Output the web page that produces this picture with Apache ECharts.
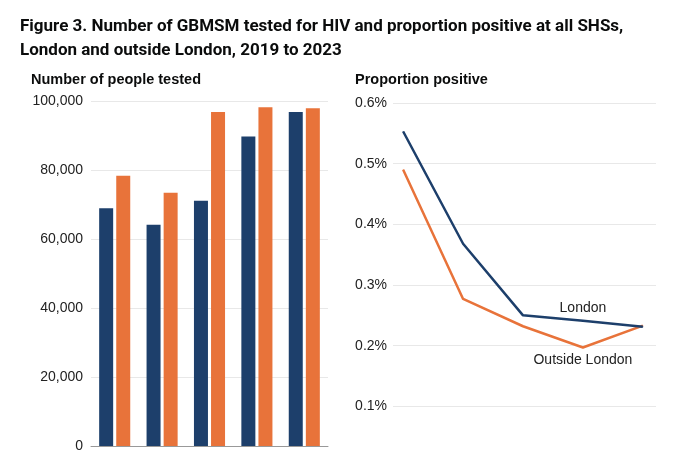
<!DOCTYPE html>
<html><head><meta charset="utf-8">
<script src="https://cdn.jsdelivr.net/npm/echarts@6/dist/echarts.min.js"></script>
<style>html,body{margin:0;padding:0;background:#fff}#c{width:700px;height:450px}</style>
</head><body><div id="c"></div>
<script>
const years = ['2019','2020','2021','2022','2023'];
const yearNums = [2019, 2020, 2021, 2022, 2023];
const testedLondon = [68900, 64100, 71100, 89700, 96800];
const testedOutside = [78300, 73400, 96800, 98200, 97900];
const posLondon = [0.553, 0.368, 0.250, 0.241, 0.231];
const posOutside = [0.490, 0.277, 0.232, 0.197, 0.233];
const barTicks = [0, 20000, 40000, 60000, 80000, 100000];
const pctTicks = [0, 0.1, 0.2, 0.3, 0.4, 0.5, 0.6];

const NAVY = '#1d3f6b', ORANGE = '#e8733a';
const chart = echarts.init(document.getElementById('c'));
const labelFont = {fontFamily: 'Liberation Sans', fontSize: 14, color: '#222'};
const seriesLabel = (text, pos) => ({show: true, position: pos, distance: 5, formatter: text,
  fontFamily: 'Liberation Sans', fontSize: 14, color: '#222'});

chart.setOption({
  animation: false,
  title: [
    {text: 'Figure 3. Number of GBMSM tested for HIV and proportion positive at all SHSs,\nLondon and outside London, 2019 to 2023',
     left: 15, top: 10, textStyle: {fontFamily: 'Roboto', fontWeight: 'bold', fontSize: 17, lineHeight: 24, color: '#0b0c0c'}},
    {text: 'Number of people tested', left: 26, top: 67,
     textStyle: {fontFamily: 'Liberation Sans', fontWeight: 'bold', fontSize: 14.5, color: '#0b0c0c'}},
    {text: 'Proportion positive', left: 350, top: 67,
     textStyle: {fontFamily: 'Liberation Sans', fontWeight: 'bold', fontSize: 14.5, color: '#0b0c0c'}}
  ],
  grid: [
    {left: 91, top: 101, width: 237, height: 345, outerBoundsMode: 'none'},
    {left: 393, top: 103, width: 263, height: 364, outerBoundsMode: 'none'}
  ],
  xAxis: [
    {type: 'category', gridIndex: 0, data: years,
     axisLine: {show: true, lineStyle: {color: '#999', width: 1}}, axisTick: {show: false}, axisLabel: {show: false}},
    {type: 'value', gridIndex: 1, min: 2018.83, max: 2023.22,
     axisLine: {show: false}, axisTick: {show: false}, axisLabel: {show: false}, splitLine: {show: false}}
  ],
  yAxis: [
    {type: 'value', gridIndex: 0, min: barTicks[0], max: barTicks[barTicks.length-1], interval: 20000,
     axisLine: {show: false}, axisTick: {show: false},
     axisLabel: Object.assign({margin: 8, formatter: v => v.toLocaleString('en-GB')}, labelFont),
     splitLine: {lineStyle: {color: '#e8e8e8', width: 1}}},
    {type: 'value', gridIndex: 1, min: pctTicks[0], max: pctTicks[pctTicks.length-1], interval: 0.1,
     axisLine: {show: false}, axisTick: {show: false},
     axisLabel: Object.assign({margin: 6, formatter: v => v.toFixed(1) + '%'}, labelFont),
     splitLine: {lineStyle: {color: '#e8e8e8', width: 1}}}
  ],
  series: [
    {type: 'bar', xAxisIndex: 0, yAxisIndex: 0, data: testedLondon, barWidth: 14, barGap: '22%',
     itemStyle: {color: NAVY}},
    {type: 'bar', xAxisIndex: 0, yAxisIndex: 0, data: testedOutside, barWidth: 14, barGap: '22%',
     itemStyle: {color: ORANGE}},
    {type: 'line', xAxisIndex: 1, yAxisIndex: 1, symbol: 'circle', symbolSize: 1, showSymbol: true,
     itemStyle: {color: ORANGE}, lineStyle: {color: ORANGE, width: 2.5}, z: 3,
     data: yearNums.map((y, i) => i === 3 ? {value: [y, posOutside[i]], label: seriesLabel('Outside London', 'bottom')} : [y, posOutside[i]])},
    {type: 'line', xAxisIndex: 1, yAxisIndex: 1, symbol: 'circle', symbolSize: 1, showSymbol: true,
     itemStyle: {color: NAVY}, lineStyle: {color: NAVY, width: 2.5}, z: 4,
     data: yearNums.map((y, i) => i === 3 ? {value: [y, posLondon[i]], label: seriesLabel('London', 'top')} : [y, posLondon[i]])}
  ]
});
</script></body></html>
